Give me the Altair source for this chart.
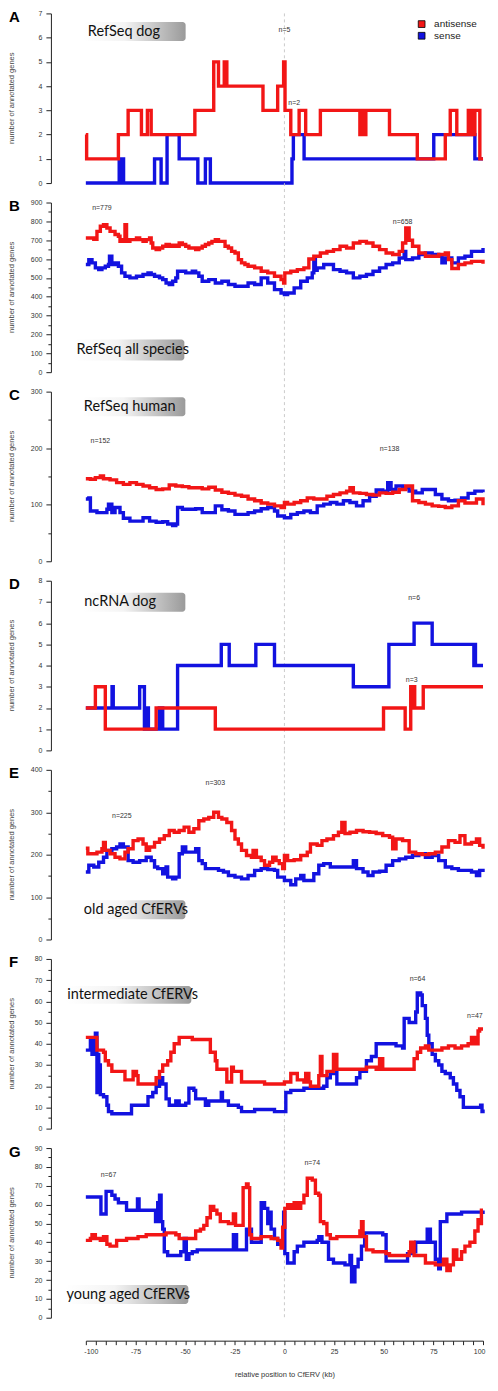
import altair as alt
import pandas as pd

RED = "#f21616"
BLUE = "#1212e0"
SERIES = ["antisense", "sense"]

# ---------------- data: (relative position kb, number of annotated genes) ----------------
A_antisense = [(-100, 2), (-99.6, 1), (-83.6, 2), (-78.7, 3), (-72.0, 2), (-69.0, 3), (-67.1, 2),
               (-45.1, 3), (-35.6, 5), (-33.2, 4), (-30.3, 5), (-29.0, 4), (-10.8, 3), (-3.4, 4),
               (-0.4, 5), (0.3, 3), (3.2, 2), (7.4, 3), (10.7, 2), (18.1, 3), (38.0, 2), (39.0, 3),
               (40.0, 2), (41.0, 3), (52.9, 2), (66.9, 1), (81.0, 2), (83.5, 3), (86.8, 2),
               (92.6, 3), (93.6, 2), (94.3, 3), (95.3, 2), (95.9, 3), (98.4, 1), (100, 1)]
A_sense = [(-100, 0), (-83.2, 1), (-82.4, 0), (-81.9, 1), (-81.0, 0), (-65.4, 1), (-62.1, 0),
           (-59.1, 2), (-53.0, 1), (-43.6, 0), (-39.8, 1), (-37.3, 0), (3.8, 1), (4.5, 2),
           (9.9, 1), (75.2, 2), (95.9, 1), (100, 1)]

B_antisense = [(-100, 712), (-96.0, 705), (-94.4, 747), (-92.7, 774), (-91.1, 783), (-89.4, 765),
               (-87.8, 747), (-85.3, 730), (-83.6, 721), (-82.8, 694), (-81.1, 703), (-80.3, 783),
               (-79.5, 694), (-77.8, 703), (-74.5, 712), (-72.9, 703), (-71.2, 694), (-69.6, 703),
               (-67.9, 712), (-67.1, 685), (-66.3, 659), (-64.6, 650), (-62.9, 659), (-61.3, 668),
               (-59.6, 677), (-58.0, 668), (-56.3, 673), (-54.7, 668), (-53.0, 685), (-51.4, 677),
               (-49.7, 668), (-48.1, 659), (-44.7, 650), (-43.1, 659), (-41.4, 668), (-39.8, 677),
               (-38.1, 685), (-36.5, 694), (-34.8, 703), (-33.2, 694), (-29.9, 668), (-28.2, 659),
               (-26.6, 641), (-24.9, 632), (-23.2, 597), (-21.6, 580), (-19.9, 571), (-18.3, 562),
               (-15.0, 553), (-11.7, 535), (-8.4, 527), (-5.0, 509), (-1.7, 491), (-0.4, 473),
               (0.2, 527), (3.2, 535), (6.5, 544), (9.8, 553), (12.3, 600), (14.8, 615),
               (18.1, 632), (21.4, 641), (24.7, 650), (28.0, 668), (31.3, 659), (34.7, 685),
               (38.0, 694), (41.3, 685), (44.6, 668), (47.9, 650), (51.2, 632), (54.5, 624),
               (57.8, 641), (59.5, 685), (61.1, 765), (62.8, 700), (64.5, 668), (67.7, 632),
               (71.0, 615), (74.4, 615), (77.7, 624), (81.0, 632), (82.6, 597), (84.3, 550),
               (87.6, 571), (90.9, 580), (94.2, 588), (97.5, 588), (100, 575)]
B_sense = [(-100, 571), (-98.5, 597), (-96.9, 580), (-95.2, 553), (-93.5, 544), (-91.9, 553),
           (-90.2, 562), (-88.6, 571), (-88.1, 615), (-86.9, 571), (-85.3, 580), (-83.6, 562),
           (-82.0, 527), (-80.3, 509), (-77.8, 500), (-74.5, 509), (-71.2, 518), (-68.7, 527),
           (-67.1, 518), (-65.4, 509), (-62.9, 500), (-61.3, 491), (-59.6, 473), (-58.0, 465),
           (-56.3, 482), (-54.7, 500), (-53.8, 535), (-52.2, 535), (-49.7, 527), (-46.4, 535),
           (-44.7, 527), (-43.1, 509), (-41.4, 482), (-38.1, 491), (-34.8, 473), (-31.5, 482),
           (-28.2, 465), (-24.9, 456), (-21.6, 456), (-18.3, 473), (-15.0, 465), (-11.7, 500),
           (-8.4, 473), (-5.0, 438), (-1.7, 420), (0.0, 412), (1.6, 420), (4.9, 447), (8.2, 482),
           (11.5, 500), (14.0, 527), (14.8, 597), (15.6, 540), (16.5, 553), (19.8, 571),
           (23.1, 571), (24.7, 544), (28.0, 535), (31.3, 527), (34.7, 500), (38.0, 509),
           (41.3, 518), (44.6, 535), (47.9, 553), (51.2, 571), (54.5, 580), (57.8, 606),
           (60.3, 641), (61.1, 597), (64.5, 606), (67.7, 624), (71.0, 632), (74.4, 624),
           (77.7, 615), (79.3, 580), (81.0, 606), (84.3, 580), (87.6, 606), (90.9, 615),
           (94.2, 641), (97.5, 641), (100, 659)]

C_antisense = [(-100, 146), (-97.7, 145), (-95.2, 148), (-92.7, 151), (-91.1, 146), (-87.8, 144),
               (-84.5, 139), (-81.1, 136), (-77.8, 139), (-74.5, 136), (-71.2, 133), (-67.9, 130),
               (-64.6, 127), (-61.3, 128), (-58.0, 135), (-54.7, 133), (-51.4, 132), (-48.1, 130),
               (-44.7, 130), (-41.4, 128), (-38.1, 131), (-34.8, 126), (-31.5, 122), (-28.2, 120),
               (-24.9, 117), (-21.6, 115), (-18.3, 110), (-15.0, 107), (-11.7, 103), (-8.4, 101),
               (-5.0, 98), (-1.7, 95), (0.0, 104), (1.6, 101), (4.9, 104), (8.2, 107), (11.5, 112),
               (14.8, 110), (18.1, 110), (21.4, 115), (24.7, 118), (28.0, 121), (31.3, 124),
               (33.0, 130), (34.7, 121), (38.0, 120), (41.3, 118), (44.6, 117), (47.9, 121),
               (51.2, 120), (54.5, 122), (57.8, 127), (61.1, 133), (64.5, 107), (67.7, 104),
               (71.0, 101), (74.4, 98), (77.7, 97), (81.0, 95), (84.3, 98), (87.6, 107),
               (90.9, 103), (94.2, 103), (96.7, 110), (100, 99)]
C_sense = [(-100, 110), (-98.5, 112), (-97.7, 89), (-94.4, 86), (-91.1, 86), (-89.4, 92),
           (-88.6, 101), (-86.9, 86), (-85.3, 95), (-82.8, 86), (-81.1, 76), (-77.8, 71),
           (-74.5, 71), (-71.2, 77), (-67.9, 71), (-64.6, 69), (-61.3, 70), (-58.8, 66),
           (-56.3, 63), (-54.7, 66), (-53.8, 95), (-51.4, 92), (-48.1, 92), (-44.7, 93),
           (-41.4, 86), (-38.1, 86), (-34.8, 98), (-31.5, 91), (-28.2, 89), (-24.9, 83),
           (-21.6, 83), (-18.3, 86), (-15.0, 89), (-11.7, 93), (-8.4, 95), (-5.0, 89),
           (-3.4, 80), (0.0, 77), (3.2, 83), (6.5, 86), (9.8, 89), (13.1, 86), (16.5, 98),
           (19.8, 101), (23.1, 104), (26.4, 101), (29.7, 107), (33.0, 104), (36.3, 98),
           (39.6, 107), (42.9, 115), (46.2, 126), (49.5, 124), (52.0, 139), (53.7, 127),
           (56.2, 133), (59.5, 130), (62.8, 124), (66.1, 121), (69.4, 127), (72.7, 127),
           (76.0, 118), (79.3, 110), (82.6, 107), (85.9, 108), (89.2, 112), (92.5, 120),
           (95.9, 124), (100, 122)]

D_antisense = [(-100, 2), (-95.2, 3), (-90.2, 1), (-64.6, 2), (-34.8, 1), (49.9, 2), (60.8, 1),
               (63.6, 3), (64.4, 2), (64.8, 3), (65.6, 2), (69.9, 3), (100, 3)]
D_sense = [(-100, 2), (-86.8, 3), (-86.2, 2), (-72.9, 3), (-70.5, 1), (-70.0, 2), (-69.5, 1),
           (-69.0, 2), (-68.5, 1), (-63.0, 2), (-62.5, 1), (-62.0, 2), (-61.3, 1), (-53.8, 4),
           (-31.8, 5), (-27.8, 4), (-14.4, 5), (-5.0, 4), (34.7, 3), (52.6, 5), (65.3, 6),
           (74.4, 5), (95.4, 4), (95.8, 5), (96.2, 4), (100, 4)]

E_antisense = [(-100, 215), (-99.0, 202), (-94.4, 206), (-91.9, 214), (-91.1, 229), (-90.2, 210),
               (-87.8, 202), (-85.3, 194), (-82.8, 190), (-80.3, 206), (-78.7, 214), (-76.2, 233),
               (-73.7, 237), (-71.2, 225), (-69.6, 210), (-67.9, 218), (-65.4, 229), (-62.9, 237),
               (-60.5, 245), (-58.0, 257), (-55.5, 253), (-53.0, 257), (-50.5, 265), (-48.1, 253),
               (-45.6, 261), (-43.1, 280), (-40.6, 284), (-38.1, 288), (-35.6, 300), (-33.2, 288),
               (-31.5, 284), (-29.0, 276), (-26.6, 257), (-24.9, 237), (-23.2, 225), (-21.6, 210),
               (-19.1, 198), (-16.6, 194), (-15.8, 210), (-14.1, 194), (-11.7, 186), (-10.0, 175),
               (-7.5, 182), (-5.9, 194), (-4.2, 186), (-2.6, 179), (-0.9, 167), (0.0, 198),
               (1.6, 186), (4.9, 188), (8.2, 198), (11.5, 206), (13.1, 225), (16.5, 222),
               (18.9, 233), (21.4, 237), (24.7, 245), (27.2, 253), (28.9, 276), (30.5, 250),
               (33.0, 253), (36.3, 257), (39.6, 254), (42.9, 253), (46.2, 250), (49.5, 245),
               (52.9, 241), (54.5, 214), (56.2, 237), (59.5, 233), (62.8, 206), (66.1, 202),
               (69.4, 200), (72.7, 202), (76.0, 206), (79.3, 218), (82.6, 233), (85.9, 229),
               (88.4, 245), (90.9, 225), (94.2, 229), (96.7, 237), (98.3, 222), (100, 214)]
E_sense = [(-100, 159), (-98.5, 175), (-96.0, 171), (-93.5, 182), (-91.1, 194), (-89.4, 210),
           (-86.9, 214), (-84.5, 218), (-82.8, 225), (-81.1, 218), (-78.7, 186), (-76.2, 182),
           (-72.9, 186), (-69.6, 194), (-67.1, 186), (-65.4, 171), (-63.8, 167), (-61.3, 155),
           (-59.6, 171), (-58.8, 147), (-56.3, 143), (-54.7, 147), (-53.0, 202), (-51.4, 218),
           (-49.7, 206), (-46.4, 206), (-44.7, 214), (-43.1, 186), (-41.4, 179), (-39.8, 167),
           (-36.5, 167), (-33.2, 163), (-30.7, 159), (-28.2, 151), (-24.9, 147), (-21.6, 143),
           (-18.3, 151), (-15.0, 163), (-11.7, 167), (-8.4, 165), (-5.0, 163), (-3.4, 147),
           (0.0, 139), (3.2, 129), (5.7, 143), (8.2, 151), (9.8, 139), (12.3, 139), (14.8, 155),
           (17.3, 175), (19.8, 179), (23.1, 171), (34.7, 186), (36.3, 167), (39.6, 159),
           (42.1, 151), (44.6, 159), (47.9, 161), (51.2, 175), (54.5, 186), (57.8, 190),
           (61.1, 194), (64.5, 198), (67.7, 202), (71.0, 194), (74.4, 198), (77.7, 186),
           (81.0, 171), (84.3, 167), (87.6, 163), (94.2, 159), (96.7, 151), (98.3, 163),
           (100, 167)]

F_antisense = [(-100, 43), (-94.4, 37), (-91.1, 36), (-90.2, 32), (-88.6, 30), (-86.9, 27),
               (-80.3, 23), (-76.2, 27), (-74.5, 25), (-73.7, 21), (-64.6, 24), (-62.9, 27),
               (-61.3, 30), (-58.8, 32), (-57.2, 36), (-55.5, 40), (-53.0, 43), (-46.4, 42),
               (-37.3, 36), (-34.8, 32), (-34.0, 28), (-29.0, 22), (-26.6, 29), (-25.7, 27),
               (-21.6, 22), (-10.0, 21), (0.0, 22), (3.2, 26), (6.5, 23), (9.8, 22), (10.7, 26),
               (12.3, 22), (13.1, 20), (17.3, 25), (18.1, 34), (18.9, 25), (21.4, 27), (24.7, 35),
               (26.4, 28), (41.3, 29), (46.2, 28), (47.9, 33), (49.5, 28), (65.3, 33), (66.9, 36),
               (68.6, 38), (71.0, 39), (72.7, 37), (79.3, 38), (82.6, 39), (85.9, 38), (89.2, 39),
               (92.5, 40), (94.2, 43), (95.9, 40), (97.5, 46), (98.3, 47), (100, 47)]
F_sense = [(-100, 37), (-97.7, 42), (-96.9, 35), (-95.2, 45), (-94.4, 17), (-94.0, 35),
           (-93.5, 17), (-93.0, 30), (-92.7, 16), (-91.1, 15), (-89.4, 11), (-88.6, 8),
           (-86.9, 7), (-77.0, 11), (-68.7, 15), (-66.3, 17), (-64.6, 20), (-62.9, 24),
           (-61.3, 21), (-59.6, 14), (-58.0, 11), (-54.7, 13), (-53.0, 11), (-49.7, 12),
           (-48.1, 19), (-45.6, 18), (-44.7, 14), (-39.8, 11), (-38.1, 13), (-31.8, 17),
           (-31.2, 13), (-28.2, 11), (-23.2, 10), (-21.6, 8), (-15.0, 9), (-5.0, 8), (0.7, 17),
           (3.2, 18), (9.8, 19), (19.8, 20), (21.4, 24), (23.1, 26), (24.7, 27), (26.4, 21),
           (36.3, 24), (38.0, 27), (41.3, 32), (43.8, 34), (46.2, 40), (56.2, 39), (59.5, 38),
           (60.3, 52), (62.8, 50), (66.1, 55), (66.9, 64), (68.6, 63), (69.4, 58), (71.0, 52),
           (71.9, 44), (72.7, 40), (74.4, 35), (76.0, 32), (77.7, 30), (79.3, 27), (81.0, 26),
           (83.5, 24), (85.1, 21), (86.8, 18), (88.4, 15), (90.1, 10), (98.8, 11), (99.5, 8),
           (100, 9)]

G_antisense = [(-100, 41), (-97.7, 42), (-96.9, 44), (-95.2, 42), (-92.7, 41), (-91.1, 43),
               (-89.4, 39), (-87.8, 38), (-84.5, 41), (-79.5, 42), (-73.7, 43), (-69.6, 44),
               (-59.6, 45), (-54.7, 44), (-53.0, 42), (-44.7, 46), (-42.3, 47), (-40.6, 49),
               (-39.0, 53), (-37.3, 59), (-35.6, 57), (-34.0, 55), (-32.3, 51), (-28.2, 50),
               (-25.7, 55), (-24.6, 49), (-20.8, 69), (-19.1, 71), (-18.3, 69), (-17.5, 44),
               (-16.6, 42), (-11.7, 43), (-6.7, 42), (-3.4, 41), (-1.7, 37), (-0.9, 48),
               (0.2, 58), (1.6, 60), (3.2, 58), (4.9, 61), (6.5, 58), (8.2, 61), (9.8, 65),
               (11.5, 74), (14.0, 73), (15.6, 66), (17.3, 65), (18.1, 51), (19.8, 50), (21.4, 44),
               (23.1, 42), (26.4, 43), (38.0, 46), (38.8, 51), (39.6, 43), (41.3, 36), (44.6, 35),
               (51.2, 34), (52.9, 33), (62.8, 35), (63.6, 40), (65.3, 33), (71.0, 29), (76.0, 28),
               (80.1, 31), (81.8, 25), (83.5, 28), (85.1, 36), (86.8, 31), (89.2, 35), (90.9, 38),
               (93.4, 40), (95.9, 46), (97.5, 52), (98.3, 50), (99.2, 57), (100, 57)]
G_sense = [(-100, 64), (-92.4, 55), (-89.8, 67), (-86.9, 65), (-85.3, 63), (-83.6, 61),
           (-79.5, 57), (-74.0, 63), (-73.2, 57), (-64.9, 51), (-63.8, 61), (-62.9, 65),
           (-62.1, 51), (-61.3, 47), (-60.5, 35), (-58.8, 33), (-52.2, 35), (-50.5, 42),
           (-49.4, 31), (-48.1, 34), (-46.4, 35), (-43.9, 36), (-25.7, 44), (-24.1, 36),
           (-19.1, 47), (-16.6, 40), (-11.7, 61), (-10.0, 58), (-8.4, 50), (-7.5, 56),
           (-6.7, 47), (-5.0, 42), (-3.4, 39), (-0.4, 56), (0.2, 34), (1.6, 29), (4.9, 35),
           (6.5, 38), (9.8, 40), (16.5, 41), (17.3, 43), (18.9, 40), (22.2, 31), (24.7, 29),
           (30.5, 28), (33.0, 33), (33.8, 19), (35.5, 27), (37.1, 31), (38.8, 38), (40.4, 45),
           (49.5, 44), (51.2, 30), (62.0, 34), (64.5, 35), (66.1, 40), (71.9, 47), (73.5, 40),
           (76.0, 31), (77.7, 26), (78.5, 51), (81.8, 55), (89.2, 56), (100, 55)]

SERIES_DATA = {
    "A": (A_antisense, A_sense), "B": (B_antisense, B_sense), "C": (C_antisense, C_sense),
    "D": (D_antisense, D_sense), "E": (E_antisense, E_sense), "F": (F_antisense, F_sense),
    "G": (G_antisense, G_sense),
}

N_LABELS = {
    "A": [(0.0, 6.3, "n=5"), (4.9, 3.3, "n=2")],
    "B": [(-91.9, 871, "n=779"), (59.5, 797, "n=658")],
    "C": [(-92.7, 213, "n=152"), (52.9, 199, "n=138")],
    "D": [(65.3, 7.2, "n=6"), (64.1, 3.3, "n=3")],
    "E": [(-34.8, 368, "n=303"), (-81.9, 290, "n=225")],
    "F": [(67.0, 70.6, "n=64"), (95.9, 52.9, "n=47")],
    "G": [(-88.6, 75.6, "n=67"), (14.0, 82, "n=74")],
}

PANEL_NAMES = {"A": "RefSeq dog", "B": "RefSeq all species", "C": "RefSeq human",
               "D": "ncRNA dog", "E": "old aged CfERVs", "F": "intermediate CfERVs",
               "G": "young aged CfERVs"}
Y_MAX = {"A": 7, "B": 900, "C": 300, "D": 8, "E": 400, "F": 80, "G": 90}
Y_MAJOR = {"A": 1, "B": 100, "C": 100, "D": 1, "E": 100, "F": 10, "G": 10}
Y_MINOR = {"A": 1, "B": 50, "C": 50, "D": 1, "E": 50, "F": 5, "G": 5}
X_TICKS = list(range(-100, 101, 5))

# ---------------- layout / style (pixels, relative to each plot area) ----------------
W, H = 398, 170
GAP = 19.5
BOXES = {
    "A": (-2.0, 100.0, 8.7, 27.7, 2.0),
    "B": (-12.3, 98.7, 137.3, 158.3, -9.3),
    "C": (-3.6, 99.7, 5.7, 24.7, -2.0),
    "D": (-3.3, 99.7, 12.0, 31.0, -1.6),
    "E": (-3.3, 99.7, 130.7, 149.7, -2.0),
    "F": (-20.3, 105.7, 27.0, 45.0, -18.6),
    "G": (-20.3, 102.7, 137.3, 156.3, -19.3),
}
LEGEND_POS = {"antisense": 10.7, "sense": 22.4}
FONT = "Liberation Sans"
LABEL_FONT = "Lato"
GRAD = alt.LinearGradient(
    gradient="linear",
    stops=[alt.GradientStop(color="#ffffff", offset=0),
           alt.GradientStop(color="#f4f4f4", offset=0.4),
           alt.GradientStop(color="#9a9a9a", offset=1)],
    x1=0, x2=1, y1=0, y2=0)

ONE = pd.DataFrame({"k": [0]})


def line_df(points, series):
    return pd.DataFrame({"x": [p[0] for p in points], "v": [p[1] for p in points],
                         "series": series})


def panel(key, last=False):
    ymax, major, minor = Y_MAX[key], Y_MAJOR[key], Y_MINOR[key]
    yvals = [i * minor for i in range(int(round(ymax / minor)) + 1)]
    xscale = alt.Scale(domain=[-100, 100], nice=False, zero=False)
    yscale = alt.Scale(domain=[0, ymax], nice=False, zero=False)
    if last:
        xaxis = alt.Axis(values=X_TICKS, labelExpr="datum.value % 25 === 0 ? '' + datum.value : ''",
                         offset=23, tickSize=4, labelPadding=3, labelFontSize=7, labelFont=FONT,
                         labelColor="#333", labelFlush=True, labelFlushOffset=2,
                         labelOverlap=False,
                         title="relative position to CfERV (kb)", titleFontSize=7.5,
                         titleFont=FONT, titleFontWeight="normal", titleColor="#333",
                         titlePadding=16, domainColor="#222", tickColor="#222", grid=False)
    else:
        xaxis = None
    yaxis = alt.Axis(values=yvals,
                     labelExpr=f"datum.value % {major} === 0 ? '' + datum.value : ''",
                     tickSize={"condition": {"test": f"datum.value % {major} !== 0", "value": 3},
                               "value": 5},
                     labelPadding=4, labelFontSize=7, labelFont=FONT, labelColor="#333",
                     labelOverlap=False, labelFlush=False, offset=35, title=None, grid=False,
                     domainColor="#222", tickColor="#222")
    X = lambda f: alt.X(f, scale=xscale, axis=xaxis)
    Y = lambda f: alt.Y(f, scale=yscale, axis=yaxis)

    anti, sense = SERIES_DATA[key]
    cscale = alt.Scale(domain=SERIES, range=[RED, BLUE])
    layers = []
    layers.append(alt.Chart(ONE).mark_rule(color="#c6c6c6", strokeDash=[3, 3], strokeWidth=0.9)
                  .encode(x=alt.X(datum=0, scale=xscale, axis=xaxis),
                          y=alt.value(0 if key == "A" else -GAP), y2=alt.value(H)))
    x1, x2, y1, y2, tx = BOXES[key]
    layers.append(alt.Chart(ONE).mark_rect(fill=GRAD, cornerRadius=3)
                  .encode(x=alt.value(x1), x2=alt.value(x2), y=alt.value(y1), y2=alt.value(y2)))
    layers.append(alt.Chart(ONE).mark_text(text=PANEL_NAMES[key], font=LABEL_FONT, fontSize=14.5,
                                           align="left", baseline="middle", color="#111")
                  .encode(x=alt.value(tx), y=alt.value((y1 + y2) / 2)))
    for pts, name in ((sense, "sense"), (anti, "antisense")):
        layers.append(alt.Chart(line_df(pts, name))
                      .mark_line(interpolate="step-after", strokeWidth=3.4, strokeJoin="miter")
                      .encode(x=X("x:Q"), y=Y("v:Q"),
                              color=alt.Color("series:N", scale=cscale, legend=None)))
    nl = pd.DataFrame({"x": [n[0] for n in N_LABELS[key]], "v": [n[1] for n in N_LABELS[key]],
                       "t": [n[2] for n in N_LABELS[key]]})
    layers.append(alt.Chart(nl).mark_text(font=FONT, fontSize=7, color="#333")
                  .encode(x=X("x:Q"), y=Y("v:Q"), text="t:N"))
    layers.append(alt.Chart(ONE).mark_text(text=key, font=FONT, fontSize=15, fontWeight="bold",
                                           align="left", baseline="middle", color="#000")
                  .encode(x=alt.value(-77), y=alt.value(3.5)))
    layers.append(alt.Chart(ONE).mark_text(text="number of annotated genes", font=FONT,
                                           fontSize=7.5, angle=270, color="#444",
                                           align="center", baseline="middle")
                  .encode(x=alt.value(-73.5), y=alt.value(H / 2)))
    if key == "A":
        for name, col in zip(SERIES, [RED, BLUE]):
            ly = LEGEND_POS[name]
            layers.append(alt.Chart(ONE).mark_square(size=46, fill=col, stroke="#000",
                                                     strokeWidth=0.8, opacity=1)
                          .encode(x=alt.value(336.5), y=alt.value(ly)))
            layers.append(alt.Chart(ONE).mark_text(text=name, font=FONT, fontSize=10,
                                                   align="left", baseline="middle", color="#222")
                          .encode(x=alt.value(349), y=alt.value(ly)))
    return alt.layer(*layers).properties(width=W, height=H)


keys = ["A", "B", "C", "D", "E", "F", "G"]
chart = alt.vconcat(*[panel(k, last=(k == "G")) for k in keys], spacing=GAP, bounds="flush")
chart = (chart.properties(padding=0)
         .configure_view(stroke=None)
         .configure_axis(grid=False))

chart.save("out.html", embed_options={"renderer": "svg", "actions": False})
